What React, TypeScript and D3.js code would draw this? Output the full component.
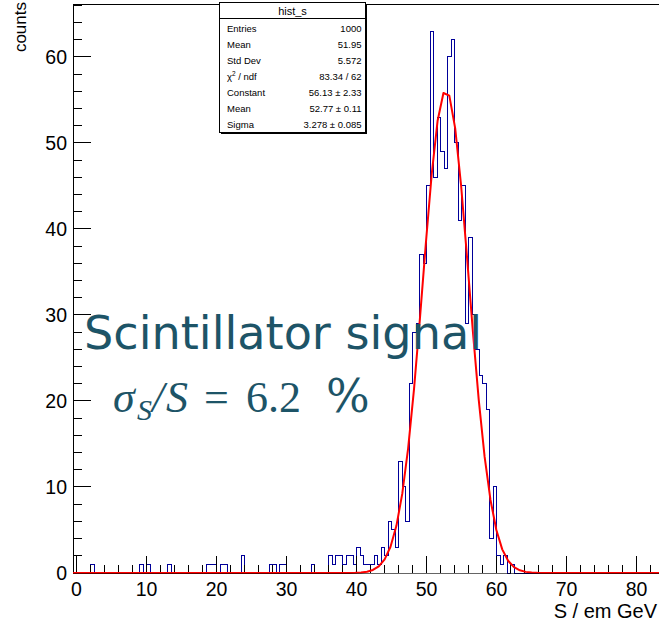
import React from 'react';
import * as d3 from 'd3';

const W = 659;
const H = 624;

const X_MIN = -0.5;
const X_MAX = 83.5;
const BIN_WIDTH = 0.5;
const Y_MAX = 66.15;

// non-empty bins: lower edge (S / em GeV) and counts
const binLowEdges = [
  -0.5, 2.0, 9.0, 10.0, 13.0, 18.5, 19.0, 19.5, 20.5, 21.0, 23.5, 27.5, 28.0, 29.0, 29.5, 33.5,
  36.0, 36.5, 37.0, 37.5, 38.0, 38.5, 39.0, 39.5,
  40.0, 40.5, 41.0, 41.5, 42.0, 42.5, 43.0, 43.5, 44.0, 44.5,
  45.0, 45.5, 46.0, 46.5, 47.0, 47.5, 48.0, 48.5, 49.0, 49.5,
  50.0, 50.5, 51.0, 51.5, 52.0, 52.5, 53.0, 53.5, 54.0, 54.5,
  55.0, 55.5, 56.0, 56.5, 57.0, 57.5, 58.0, 58.5, 59.0, 59.5,
  60.0, 60.5, 61.0, 62.0,
];
const binCounts = [
  2, 1, 1, 1, 1, 1, 1, 1, 1, 1, 2, 1, 1, 1, 1, 1,
  2, 1, 2, 2, 1, 2, 2, 1,
  3, 2, 1, 1, 1, 2, 1, 3, 2, 6,
  5, 3, 13, 10, 6, 22, 28, 29, 37, 36,
  45, 63, 46, 53, 49, 47, 60, 62, 50, 41,
  45, 29, 39, 30, 26, 23, 22, 19, 4, 10,
  2, 1, 2, 1,
];

// Gaussian fit parameters (from the stats box)
const fitConstant = 56.13;
const fitMean = 52.77;
const fitSigma = 3.278;
const FIT_NPX = 100;

const xMajorTicks = [0, 10, 20, 30, 40, 50, 60, 70, 80];
const yMajorTicks = [0, 10, 20, 30, 40, 50, 60];

const statsTitle = 'hist_s';
const statsLabels = ['Entries', 'Mean', 'Std Dev', 'CHI2', 'Constant', 'Mean', 'Sigma'];
const statsValues = ['1000', '51.95', '5.572', '83.34 / 62', '56.13 \u00b1 2.33', '52.77 \u00b1 0.11', '3.278 \u00b1 0.085'];

const xTitle = 'S / em GeV';
const yTitle = 'counts';
const annotationLine1 = 'Scintillator signal';

const TEAL = '#1d5467';
const HIST_BLUE = '#000099';
const AXIS_FONT = 'Liberation Sans, Arial, Helvetica, sans-serif';

export default function App() {
  const xs = d3.scaleLinear().domain([X_MIN, X_MAX]).range([73, 661]);
  const ys = d3.scaleLinear().domain([0, Y_MAX]).range([573, 4.1]);

  const nBins = Math.round((X_MAX - X_MIN) / BIN_WIDTH);
  const counts: number[] = new Array(nBins).fill(0);
  binLowEdges.forEach((e, i) => {
    counts[Math.round((e - X_MIN) / BIN_WIDTH)] = binCounts[i];
  });

  let histD = `M${xs(X_MIN)},${ys(0)}`;
  counts.forEach((c, i) => {
    const lo = X_MIN + i * BIN_WIDTH;
    const hi = lo + BIN_WIDTH;
    histD += `L${xs(lo)},${ys(c)}L${xs(hi)},${ys(c)}`;
  });
  histD += `L${xs(X_MAX)},${ys(0)}`;

  const fitPts = d3.range(0, FIT_NPX + 1).map((k) => {
    const x = X_MIN + (k * (X_MAX - X_MIN)) / FIT_NPX;
    const y = fitConstant * Math.exp(-0.5 * Math.pow((x - fitMean) / fitSigma, 2));
    return [x, y] as [number, number];
  });
  const fitD = d3.line<[number, number]>().x((d) => xs(d[0])).y((d) => ys(d[1]))(fitPts) || '';

  const xMinor = d3.range(0, X_MAX, 2);
  const yMinor = d3.range(0, Y_MAX, 2);

  const left = xs(X_MIN);
  const bottom = ys(0);
  const top = ys(Y_MAX);

  const boxL = 219.5, boxT = 2.5, boxW = 146, boxH = 130;

  return (
    <div style={{ position: 'absolute', left: 0, top: 0, width: W, height: H, background: '#fff' }}>
      <svg width={W} height={H} style={{ display: 'block' }}>
        <rect x={0} y={0} width={W} height={H} fill="#fff" />
        <defs>
          <clipPath id="frameClip">
            <rect x={left} y={top - 1} width={W - left + 5} height={bottom - top + 3} />
          </clipPath>
        </defs>

        {/* histogram */}
        <path d={histD} fill="none" stroke={HIST_BLUE} strokeWidth={1} shapeRendering="crispEdges" clipPath="url(#frameClip)" />

        {/* frame & ticks */}
        <g shapeRendering="crispEdges" stroke="#000" strokeWidth={1}>
          <line x1={left} y1={top} x2={W + 5} y2={top} />
          <line x1={left} y1={top} x2={left} y2={bottom} />
          {xMinor.map((v) => (
            <line key={'xm' + v} x1={xs(v)} x2={xs(v)} y1={bottom} y2={bottom - 8.5} />
          ))}
          {xMajorTicks.map((v) => (
            <line key={'xM' + v} x1={xs(v)} x2={xs(v)} y1={bottom} y2={bottom - 17} />
          ))}
          {yMinor.map((v) => (
            <line key={'ym' + v} x1={left} x2={left + 8.8} y1={ys(v)} y2={ys(v)} />
          ))}
          {yMajorTicks.map((v) => (
            <line key={'yM' + v} x1={left} x2={left + 17.6} y1={ys(v)} y2={ys(v)} />
          ))}
        </g>

        {/* fit */}
        <path d={fitD} fill="none" stroke="#ff0000" strokeWidth={2} clipPath="url(#frameClip)" strokeLinejoin="round" />

        {/* bottom axis over the fit tail */}
        <line x1={left} y1={bottom} x2={W + 5} y2={bottom} stroke="#000" strokeWidth={1} opacity={0.6} shapeRendering="crispEdges" />

        {/* tick labels */}
        <g fontFamily={AXIS_FONT} fontSize={19.5} fill="#000">
          {xMajorTicks.map((v) => (
            <text key={'xl' + v} x={xs(v)} y={595.5} textAnchor="middle">{v}</text>
          ))}
          {yMajorTicks.map((v) => (
            <text key={'yl' + v} x={67} y={ys(v) + 7} textAnchor="end">{v}</text>
          ))}
        </g>
        <text x={657} y={618} textAnchor="end" fontFamily={AXIS_FONT} fontSize={20} fill="#000">{xTitle}</text>
        <text transform="translate(26,2) rotate(-90)" textAnchor="end" fontFamily={AXIS_FONT} fontSize={17} fill="#000">{yTitle}</text>

        {/* stats box */}
        <rect x={boxL + 1.5} y={boxT + 1.5} width={boxW} height={boxH} fill="#000" shapeRendering="crispEdges" />
        <rect x={boxL} y={boxT} width={boxW} height={boxH} fill="#fff" stroke="#000" strokeWidth={1} shapeRendering="crispEdges" />
        <line x1={boxL} x2={boxL + boxW} y1={18.5} y2={18.5} stroke="#000" strokeWidth={1} shapeRendering="crispEdges" />
        <text x={boxL + boxW / 2} y={15} textAnchor="middle" fontFamily={AXIS_FONT} fontSize={11} fill="#000">{statsTitle}</text>
        <g fontFamily={AXIS_FONT} fontSize={9.5} fill="#000">
          {statsLabels.map((lab, i) => (
            <text key={'sl' + i} x={227} y={31.7 + i * 16}>
              {lab === 'CHI2' ? (
                <>
                  <tspan>{'\u03c7'}</tspan>
                  <tspan fontSize={6.5} dy={-4}>2</tspan>
                  <tspan dy={4}>{' / ndf'}</tspan>
                </>
              ) : lab}
            </text>
          ))}
          {statsValues.map((val, i) => (
            <text key={'sv' + i} x={361.5} y={31.7 + i * 16} textAnchor="end">{val}</text>
          ))}
        </g>

        {/* annotations */}
        <text x={84} y={349} fontFamily="DejaVu Sans, Verdana, sans-serif" fontSize={46} fill={TEAL} textLength={398} lengthAdjust="spacingAndGlyphs">
          {annotationLine1}
        </text>
        <text y={412} fontFamily="Liberation Serif, Times New Roman, serif" fontSize={44} fill={TEAL}>
          <tspan x={113} fontStyle="italic">{'\u03c3'}</tspan>
          <tspan x={137} dy={8} fontSize={30} fontStyle="italic">S</tspan>
          <tspan x={152} dy={-8} fontStyle="italic">/</tspan>
          <tspan x={166} fontStyle="italic">S</tspan>
          <tspan x={204}>=</tspan>
          <tspan x={246}>6.2</tspan>
          <tspan x={326} fontFamily="DejaVu Serif, serif" fontSize={46}>%</tspan>
        </text>
      </svg>
    </div>
  );
}
